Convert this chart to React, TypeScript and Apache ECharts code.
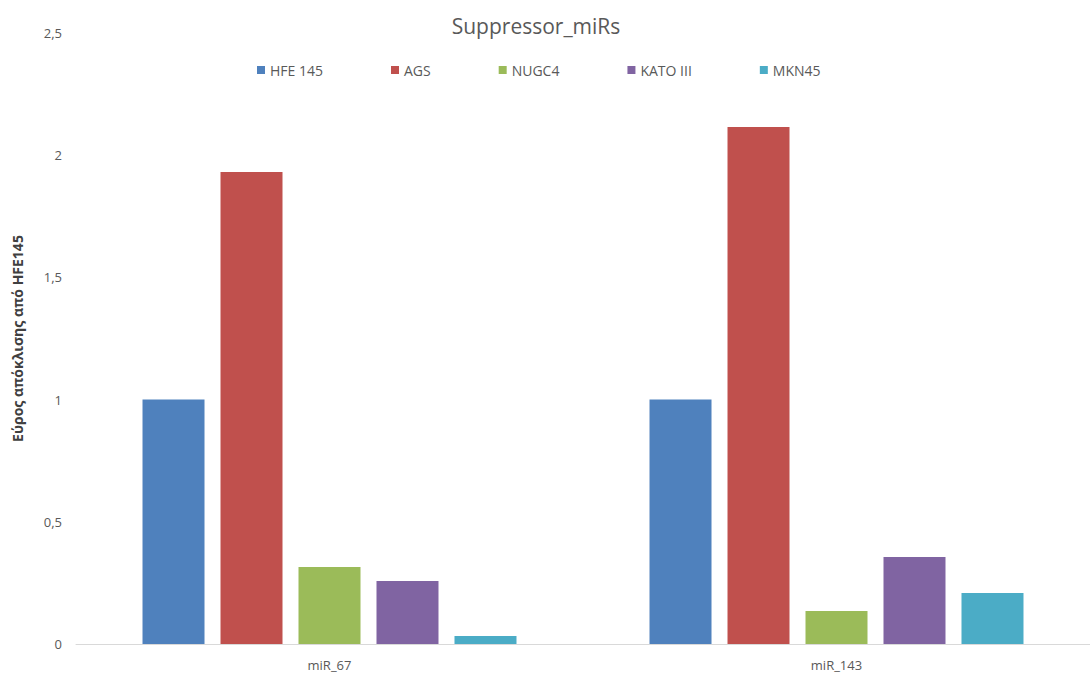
import React, { useEffect, useRef } from "react";
import * as echarts from "echarts";

const categories = ["miR_67", "miR_143"];
const seriesNames = ["HFE 145", "AGS", "NUGC4", "KATO III", "MKN45"];
const hfe145 = [1, 1];
const ags = [1.931, 2.115];
const nugc4 = [0.315, 0.135];
const kato3 = [0.258, 0.356];
const mkn45 = [0.033, 0.209];
const colors = ["#4F81BD", "#C0504D", "#9BBB59", "#8064A2", "#4BACC6"];
const yTicks = { min: 0, max: 2.5, interval: 0.5 };

export default function App() {
  const ref = useRef<HTMLDivElement>(null);
  useEffect(() => {
    if (!ref.current) return;
    const chart = echarts.init(ref.current, null, { renderer: "svg" });
    const values = [hfe145, ags, nugc4, kato3, mkn45];
    const font = "'Open Sans', 'Noto Sans', sans-serif";
    chart.setOption({
      animation: false,
      textStyle: { fontFamily: font },
      title: {
        text: "Suppressor_miRs",
        left: 531,
        textAlign: "center",
        top: 10,
        textStyle: { fontSize: 21, fontWeight: "normal", color: "#595959", fontFamily: font },
      },
      legend: {
        data: seriesNames,
        top: 58,
        left: 252,
        icon: "rect",
        itemWidth: 8,
        itemHeight: 8,
        itemGap: 68,
        textStyle: { fontSize: 14, color: "#595959", fontFamily: font },
      },
      grid: { left: 76, right: 0, top: 33, bottom: 31, containLabel: false },
      xAxis: {
        type: "category",
        data: categories,
        axisLine: { lineStyle: { color: "#D9D9D9", width: 1 } },
        axisTick: { show: false },
        axisLabel: { color: "#595959", fontSize: 13, margin: 14 },
      },
      yAxis: {
        type: "value",
        min: yTicks.min,
        max: yTicks.max,
        interval: yTicks.interval,
        name: "Εύρος απόκλισης από HFE145",
        nameLocation: "middle",
        nameGap: 52,
        nameTextStyle: { fontSize: 14, fontWeight: "bold", color: "#404040", fontFamily: font },
        axisLine: { show: false },
        axisTick: { show: false },
        splitLine: { show: false },
        axisLabel: {
          color: "#595959",
          fontSize: 13,
          margin: 14,
          formatter: (v: number) => String(v).replace(".", ","),
        },
      },
      series: seriesNames.map((name, i) => ({
        name,
        type: "bar",
        data: values[i],
        barWidth: 62,
        barGap: "25.8%",
        itemStyle: { color: colors[i] },
      })),
    });
    return () => chart.dispose();
  }, []);
  return <div ref={ref} style={{ width: 1090, height: 675, position: "absolute", left: 0, top: 0 }} />;
}
